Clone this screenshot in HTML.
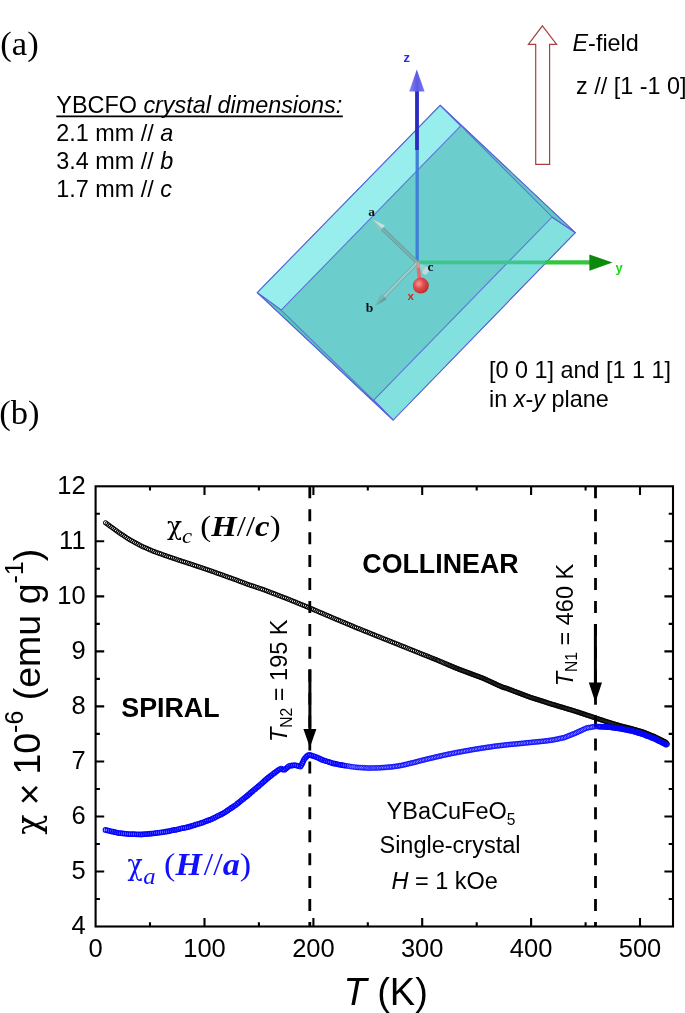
<!DOCTYPE html>
<html><head><meta charset="utf-8"><title>Figure</title>
<style>html,body{margin:0;padding:0;background:#fff}svg{display:block}</style></head>
<body><div style="will-change:transform;width:685px;height:1013px;overflow:hidden"><svg width="685" height="1013" viewBox="0 0 685 1013">
<rect width="685" height="1013" fill="#fff"/>
<defs>
<marker id="mk" markerWidth="8" markerHeight="8" refX="4" refY="4" markerUnits="userSpaceOnUse"><circle cx="4" cy="4" r="2.15" fill="none" stroke="#000" stroke-width="1.0"/></marker>
<marker id="mk2" markerWidth="8" markerHeight="8" refX="4" refY="4" markerUnits="userSpaceOnUse"><circle cx="4" cy="4" r="2.2" fill="none" stroke="#000" stroke-width="0.8"/></marker>
<marker id="mb" markerWidth="8" markerHeight="8" refX="4" refY="4" markerUnits="userSpaceOnUse"><circle cx="4" cy="4" r="2.3" fill="none" stroke="#0505ff" stroke-width="1.15"/></marker>
<marker id="mb3" markerWidth="8" markerHeight="8" refX="4" refY="4" markerUnits="userSpaceOnUse"><circle cx="4" cy="4" r="2.15" fill="none" stroke="#0505ff" stroke-width="1.5"/></marker>
<marker id="mb2" markerWidth="8" markerHeight="8" refX="4" refY="4" markerUnits="userSpaceOnUse"><circle cx="4" cy="4" r="2.4" fill="none" stroke="#0505ff" stroke-width="0.8"/></marker>
<filter id="soft" x="-5%" y="-5%" width="110%" height="110%"><feGaussianBlur stdDeviation="0.38"/></filter>
<linearGradient id="gz" x1="0" x2="1" y1="0" y2="0"><stop offset="0" stop-color="#8a8af2"/><stop offset="0.5" stop-color="#5a5ae6"/><stop offset="1" stop-color="#7a7aee"/></linearGradient>
<radialGradient id="gs" cx="0.38" cy="0.38" r="0.7"><stop offset="0" stop-color="#f49a9a"/><stop offset="0.45" stop-color="#e04a4a"/><stop offset="1" stop-color="#b82828"/></radialGradient>
</defs>
<g filter="url(#soft)">
<g stroke="#5a62d8" stroke-width="1.05" stroke-linejoin="round">
<polygon points="257.3,292.6 440.2,105.4 575.2,232.6 393.2,420.0" fill="#6fcfce"/>
<polygon points="257.3,292.6 440.2,105.4 460.9,125.8 281.3,310.2" fill="#97eeec"/>
<polygon points="373.6,400.2 552.0,217.0 575.2,232.6 393.2,420.0" fill="#82e0de"/>
<polygon points="257.3,292.6 281.3,310.2 373.6,400.2 393.2,420.0" fill="#55c8b8"/>
<polygon points="440.2,105.4 575.2,232.6 552.0,217.0 460.9,125.8" fill="#62c8c4"/>
<polygon points="281.3,310.2 460.9,125.8 552.0,217.0 373.6,400.2" fill="#6ccdcd" stroke-opacity="0.55"/>
</g>
<line x1="417.2" y1="262.4" x2="417.2" y2="150" stroke="#3f7fd6" stroke-width="3.3"/>
<line x1="417.0" y1="150" x2="417.0" y2="90" stroke="#2a2ac0" stroke-width="3.8"/>
<polygon points="416.8,69.5 409.2,91.6 424.6,91.6" fill="url(#gz)"/>
<line x1="417.2" y1="262.4" x2="545" y2="262.4" stroke="#3ec88a" stroke-width="3.6"/>
<line x1="545" y1="262.4" x2="590" y2="262.4" stroke="#33c63c" stroke-width="4.2"/>
<polygon points="612.5,262.6 589.4,254.6 589.4,270.8" fill="#0a8a0a"/>
<g stroke-linecap="butt">
<line x1="417.2" y1="262.4" x2="382.1" y2="228.6" stroke="#5e999b" stroke-width="3.6"/>
<line x1="417.2" y1="262.4" x2="382.1" y2="228.6" stroke="#7db1b2" stroke-width="2.2"/>
<polygon points="372.3,219.3 385.0,225.6 382.1,228.6" fill="#bde6e4"/><polygon points="372.3,219.3 382.1,228.6 379.2,231.6" fill="#8fc4c3"/>
<line x1="417.2" y1="262.4" x2="384" y2="296.7" stroke="#6da7a9" stroke-width="3.6"/>
<line x1="417.2" y1="262.4" x2="384" y2="296.7" stroke="#9dcdcc" stroke-width="2.2"/>
<polygon points="374.9,306 387.0,299.6 384,296.7" fill="#62a3a4"/><polygon points="374.9,306 384,296.7 380.9,293.8" fill="#79b6b6"/>
</g>
<polygon points="417.2,262.4 428.5,267.5 423.5,274" fill="#9fcfd0"/>
<ellipse cx="426" cy="270.8" rx="4.2" ry="2.6" transform="rotate(-52 426 270.8)" fill="#b9dedf"/>
<line x1="417.5" y1="262.4" x2="419.6" y2="279" stroke="#e86a6a" stroke-width="3.4"/>
<line x1="417.4" y1="261.9" x2="418.2" y2="268" stroke="#b9a3a3" stroke-width="3.4"/>
<circle cx="420.8" cy="285.6" r="8" fill="url(#gs)"/>
<g font-family="Liberation Serif, serif" font-weight="bold" font-size="13.5px" fill="#111">
<text x="368.3" y="215.6">a</text><text x="365.8" y="312.2">b</text><text x="427.4" y="270.8">c</text></g>
<text x="407.6" y="299.8" font-family="Liberation Sans, sans-serif" font-weight="bold" font-size="11.5px" fill="#e02020">x</text>
<text x="403.6" y="61.6" font-family="Liberation Sans, sans-serif" font-weight="bold" font-size="13px" fill="#2a2ae8">z</text>
<text x="615.6" y="271.6" font-family="Liberation Sans, sans-serif" font-weight="bold" font-size="13px" fill="#10e010">y</text>
</g>
<polygon points="542.4,25.8 556.6,44.4 549.6,44.4 549.6,164.3 535.7,164.3 535.7,44.4 528.4,44.4" fill="#fff" stroke="#a84040" stroke-width="1.2" stroke-linejoin="miter"/>
<g font-family="Liberation Serif, serif" font-size="34.6px" fill="#000"><text x="0.3" y="54.6">(a)</text><text x="-0.7" y="424.2">(b)</text></g>
<g font-family="Liberation Sans, sans-serif" font-size="23.4px" fill="#000">
<text x="56.3" y="113">YBCFO <tspan font-style="italic">crystal dimensions:</tspan></text>
<line x1="56.3" y1="116.4" x2="342.8" y2="116.4" stroke="#000" stroke-width="1.6"/>
<text x="56.3" y="140.8">2.1 mm // <tspan font-style="italic">a</tspan></text>
<text x="56.3" y="168.9">3.4 mm // <tspan font-style="italic">b</tspan></text>
<text x="56.3" y="196.7">1.7 mm // <tspan font-style="italic">c</tspan></text>
<text x="572.5" y="51.1"><tspan font-style="italic">E</tspan>-field</text>
<text x="576" y="94">z // [1 -1 0]</text>
<text x="489" y="377.7">[0 0 1] and [1 1 1]</text>
<text x="489" y="406.5">in <tspan font-style="italic">x</tspan>-<tspan font-style="italic">y</tspan> plane</text>
</g>
<line x1="309.8" y1="486.3" x2="309.8" y2="926.5" stroke="#000" stroke-width="2.8" stroke-dasharray="12 10.93"/>
<line x1="595.5" y1="486.3" x2="595.5" y2="926.5" stroke="#000" stroke-width="2.8" stroke-dasharray="12 10.93"/>
<polyline points="105.5,522.8 107.1,523.9 108.7,525.1 110.2,526.2 111.8,527.4 113.4,528.5 115.0,529.7 116.5,530.8 118.1,532.0 119.7,533.1 121.3,534.2 123.0,535.2 124.6,536.3 126.2,537.4 127.8,538.5 129.5,539.5 131.2,540.5 132.9,541.4 134.6,542.4 136.3,543.3 138.0,544.2 139.7,545.1 141.5,546.1 143.2,546.9 145.0,547.6 146.8,548.4 148.6,549.2 150.4,550.0 152.2,550.8 154.0,551.5 155.8,552.2 157.6,552.8 159.5,553.5 161.3,554.1 163.2,554.8 165.0,555.5 166.8,556.1 168.7,556.7 170.5,557.4 172.4,558.0 174.2,558.6 176.1,559.2 177.9,559.9 179.8,560.5 181.6,561.1 183.5,561.7 185.3,562.3 187.2,562.9 189.0,563.5 190.9,564.1 192.7,564.7 194.6,565.4 196.4,566.0 198.3,566.6 200.1,567.2 202.0,567.8 203.8,568.5 205.7,569.1 207.5,569.7 209.4,570.4 211.2,571.0 213.0,571.6 214.9,572.3 216.7,573.0 218.5,573.6 220.4,574.3 222.2,574.9 224.0,575.6 225.9,576.3 227.7,576.9 229.6,577.6 231.4,578.2 233.2,578.9 235.1,579.5 236.9,580.2 238.7,580.9 240.5,581.6 242.4,582.3 244.2,583.0 246.0,583.7 247.8,584.4 249.7,585.0 251.5,585.6 253.4,586.2 255.2,586.8 257.1,587.5 258.9,588.1 260.8,588.7 262.6,589.3 264.5,590.0 266.3,590.7 268.1,591.4 269.9,592.1 271.7,592.8 273.6,593.5 275.4,594.2 277.2,594.9 279.0,595.6 280.8,596.3 282.7,597.0 284.5,597.7 286.3,598.4 288.1,599.1 289.9,599.8 291.7,600.6 293.5,601.3 295.3,602.0 297.1,602.8 298.9,603.5 300.7,604.3 302.6,605.0 304.4,605.7 306.2,606.5 308.0,607.2 309.8,608.0 311.6,608.7 313.4,609.5 315.1,610.3 316.9,611.0 318.7,611.8 320.5,612.6 322.3,613.3 324.1,614.1 325.9,614.9 327.7,615.6 329.5,616.4 331.3,617.2 333.1,618.0 334.9,618.7 336.7,619.5 338.5,620.2 340.3,621.0 342.1,621.7 343.9,622.5 345.7,623.2 347.5,624.0 349.3,624.7 351.1,625.5 352.8,626.2 354.6,627.0 356.4,627.8 358.3,628.5 360.1,629.2 361.9,629.9 363.7,630.7 365.5,631.4 367.3,632.1 369.1,632.8 370.9,633.6 372.7,634.3 374.5,635.0 376.3,635.8 378.2,636.5 380.0,637.2 381.8,637.9 383.6,638.7 385.4,639.4 387.2,640.1 389.0,640.8 390.8,641.5 392.6,642.3 394.5,643.0 396.3,643.7 398.1,644.4 399.9,645.2 401.7,645.9 403.5,646.6 405.3,647.3 407.1,648.1 408.9,648.8 410.7,649.5 412.6,650.3 414.4,651.0 416.2,651.7 418.0,652.4 419.8,653.2 421.6,653.9 423.4,654.6 425.1,655.3 426.8,655.9 428.4,656.6 430.0,657.2 431.6,657.9 433.1,658.5 434.6,659.1 436.0,659.6 437.4,660.2 438.8,660.8" fill="none" stroke="none" marker-start="url(#mk)" marker-mid="url(#mk)" marker-end="url(#mk)"/>
<polyline points="440.1,661.4 441.4,661.9 442.7,662.4 443.9,663.0 445.1,663.5 446.3,664.0 447.4,664.5 448.5,664.9 449.6,665.4 450.6,665.8 451.7,666.3 452.7,666.7 453.7,667.1 454.6,667.5 455.6,667.9 456.5,668.3 457.4,668.6 458.3,669.0 459.3,669.4 460.2,669.7 461.1,670.1 462.1,670.4 463.0,670.8 463.9,671.1 464.9,671.5 465.8,671.8 466.8,672.2 467.7,672.5 468.6,672.9 469.6,673.2 470.5,673.6 471.4,673.9 472.4,674.3 473.3,674.6 474.2,675.0 475.2,675.3 476.1,675.7 477.1,676.0 478.0,676.4 478.9,676.7 479.9,677.1 480.8,677.4 481.7,677.8 482.7,678.1 483.6,678.5 484.5,678.9 485.4,679.3 486.3,679.7 487.2,680.2 488.2,680.6 489.1,681.0 490.0,681.4 490.9,681.8 491.8,682.3 492.7,682.7 493.6,683.1 494.5,683.5 495.4,683.9 496.3,684.3 497.2,684.8 498.1,685.2 499.1,685.6 500.0,686.0 500.9,686.4 501.8,686.9 502.7,687.2 503.7,687.5 504.6,687.8 505.6,688.0 506.6,688.3 507.5,688.7 508.4,689.0 509.4,689.4 510.3,689.7 511.2,690.1 512.2,690.4 513.1,690.8 514.0,691.2 515.0,691.5 515.9,691.9 516.8,692.2 517.8,692.6 518.7,692.9 519.6,693.3 520.6,693.6 521.5,694.0 522.4,694.4 523.4,694.7 524.3,695.1 525.3,695.4 526.2,695.8 527.1,696.1 528.1,696.5 529.0,696.8 529.9,697.2 530.9,697.5 531.8,697.8 532.8,698.1 533.7,698.4 534.7,698.7 535.6,699.0 536.6,699.3 537.5,699.6 538.5,699.9 539.5,700.2 540.4,700.5 541.4,700.8 542.3,701.1 543.3,701.4 544.2,701.7 545.2,702.0 546.1,702.3 547.1,702.7 548.0,703.0 549.0,703.3 549.9,703.6 550.9,703.9 551.8,704.2 552.8,704.5 553.8,704.7 554.7,705.0 555.7,705.3 556.6,705.6 557.6,705.9 558.5,706.2 559.5,706.5 560.5,706.8 561.4,707.0 562.4,707.3 563.3,707.6 564.3,707.9 565.3,708.2 566.2,708.5 567.2,708.8 568.1,709.1 569.1,709.3 570.0,709.6 571.0,709.9 572.0,710.2 572.9,710.5 573.9,710.8 574.8,711.1 575.8,711.4 576.7,711.7 577.7,712.0 578.6,712.3 579.6,712.6 580.5,713.0 581.5,713.3 582.4,713.6 583.4,713.9 584.3,714.2 585.3,714.5 586.2,714.9 587.2,715.2 588.1,715.5 589.1,715.8 590.0,716.1 591.0,716.4 591.9,716.8 592.9,717.1 593.8,717.4 594.8,717.7 595.7,718.0 596.6,718.3 597.6,718.7 598.5,719.0 599.5,719.3 600.4,719.6 601.4,719.9 602.3,720.2 603.3,720.5 604.2,720.9 605.2,721.2 606.1,721.5 607.1,721.8 608.0,722.1 609.0,722.4 609.9,722.7 610.9,723.0 611.9,723.3 612.8,723.6 613.8,723.9 614.7,724.2 615.7,724.5 616.6,724.7 617.6,725.0 618.6,725.3 619.5,725.6 620.5,725.9 621.4,726.1 622.4,726.4 623.4,726.6 624.4,726.9 625.3,727.1 626.3,727.3 627.3,727.6 628.2,727.8 629.2,728.1 630.2,728.3 631.2,728.5 632.1,728.8 633.1,729.1 634.0,729.4 635.0,729.6 636.0,729.9 636.9,730.2 637.9,730.5 638.8,730.8 639.8,731.0 640.8,731.3 641.7,731.6 642.7,731.9 643.6,732.2 644.6,732.6 645.5,733.0 646.4,733.3 647.3,733.7 648.3,734.1 649.2,734.5 650.1,734.8 651.0,735.2 652.0,735.6 652.9,736.0 653.8,736.3 654.7,736.7 655.6,737.2 656.5,737.6 657.4,738.1 658.3,738.5 659.2,738.9 660.1,739.4 661.0,739.8 661.9,740.3 662.8,740.7 663.7,741.2 664.6,741.6 665.5,742.0 666.2,742.7 666.8,743.5 667.4,744.3" fill="none" stroke="none" marker-start="url(#mk2)" marker-mid="url(#mk2)" marker-end="url(#mk2)"/>
<polyline points="105.5,829.9 107.4,830.4 109.3,830.8 111.2,831.3 113.1,831.7 115.0,832.2 116.9,832.6 118.8,833.0 120.7,833.2 122.7,833.4 124.6,833.6 126.5,833.8 128.5,834.0 130.4,834.1 132.4,834.2 134.3,834.2 136.3,834.3 138.2,834.3 140.2,834.4 142.1,834.4 144.1,834.2 146.0,834.0 148.0,833.9 149.9,833.7 151.8,833.5 153.8,833.3 155.7,833.1 157.6,832.8 159.6,832.6 161.5,832.3 163.4,832.0 165.4,831.7 167.3,831.4 169.2,831.0 171.1,830.6 173.0,830.2 174.9,829.9 176.9,829.5 178.8,829.1 180.7,828.6 182.6,828.2 184.5,827.8 186.4,827.4 188.3,826.9 190.1,826.4 192.0,825.8 193.9,825.3 195.7,824.7 197.6,824.1 199.5,823.6 201.3,822.9 203.1,822.3 205.0,821.6 206.8,820.9 208.6,820.2 210.4,819.5 212.2,818.8 214.0,817.9 215.7,817.0 217.5,816.1 219.2,815.3 221.0,814.4 222.7,813.5 224.4,812.5 226.0,811.5 227.6,810.4 229.3,809.3 230.9,808.2 232.5,807.2 234.1,806.1 235.7,805.0 237.3,803.7 238.8,802.5 240.3,801.3 241.8,800.1 243.3,798.9 244.9,797.6 246.4,796.4 247.9,795.2 249.4,793.9 250.8,792.6 252.3,791.4 253.8,790.1 255.3,788.9 256.8,787.6 258.3,786.4 259.8,785.1 261.3,783.8 262.7,782.5 264.2,781.2 265.6,779.9 267.1,778.7 268.6,777.4 270.2,776.2 271.7,775.0 273.2,773.8 274.8,772.7 276.3,771.5 277.9,770.3 279.6,769.3 281.2,768.5 282.9,769.6 284.5,769.7 286.0,768.5 287.5,767.3 289.0,766.0 290.9,765.7 292.8,765.4 294.8,765.1 296.7,765.6 298.5,766.1 300.4,766.5 301.4,764.9 302.4,763.2 303.2,761.4 304.0,759.6 305.1,758.0 306.4,756.7 307.8,755.3 309.5,754.9 311.3,755.4 313.2,756.0 315.0,756.6 316.9,757.3 318.7,758.0 320.4,758.9 322.1,759.8 324.0,760.4 325.8,761.0 327.7,761.6 329.6,762.2 331.4,762.8 333.3,763.4 335.1,763.7 337.0,764.1 338.9,764.5 340.8,764.8 342.6,765.2 344.4,765.6" fill="none" stroke="none" marker-start="url(#mb)" marker-mid="url(#mb)" marker-end="url(#mb)"/>
<polyline points="346.3,765.9 348.1,766.1 349.9,766.4 351.7,766.7 353.5,766.9 355.3,767.2 357.1,767.4 358.8,767.5 360.6,767.6 362.3,767.7 364.1,767.8 365.8,767.9 367.5,768.0 369.2,768.1 370.9,768.0 372.6,768.0 374.3,768.0 376.0,767.9 377.6,767.9 379.3,767.8 380.9,767.7 382.5,767.6 384.1,767.5 385.7,767.4 387.3,767.2 388.9,767.1 390.4,767.0 392.0,766.9 393.5,766.6 395.1,766.4 396.6,766.2 398.1,766.0 399.6,765.7 401.1,765.5 402.6,765.2 404.1,764.8 405.6,764.5 407.1,764.1 408.6,763.7 410.1,763.4 411.6,763.0 413.1,762.7 414.6,762.3 416.1,761.9 417.6,761.5 419.1,761.1 420.6,760.7 422.1,760.3 423.6,760.0 425.1,759.6 426.6,759.2 428.1,758.8 429.6,758.5 431.2,758.1 432.7,757.8 434.2,757.4 435.7,757.0 437.2,756.7 438.7,756.4 440.2,756.0 441.7,755.7 443.2,755.3 444.8,755.0 446.3,754.7 447.8,754.3 449.3,754.0 450.8,753.7 452.3,753.4 453.9,753.1 455.4,752.8 456.9,752.5 458.4,752.2 459.9,751.9 461.5,751.7 463.0,751.4 464.5,751.1 466.0,750.8 467.6,750.6 469.1,750.3 470.6,750.0 472.1,749.7 473.7,749.5 475.2,749.2 476.7,749.0 478.3,748.7 479.8,748.5 481.3,748.2 482.9,748.0 484.4,747.8 485.9,747.5 487.5,747.3 489.0,747.1 490.5,746.9 492.1,746.6 493.6,746.4 495.1,746.2 496.7,746.0 498.2,745.8 499.7,745.6 501.3,745.5 502.8,745.3 504.4,745.1 505.9,744.9 507.4,744.7 509.0,744.6 510.5,744.4 512.1,744.3 513.6,744.2 515.2,744.0 516.7,743.9 518.2,743.7 519.8,743.6 521.3,743.4 522.9,743.3 524.4,743.1 526.0,742.9 527.5,742.8 529.0,742.6 530.6,742.5 532.1,742.3 533.7,742.2 535.2,742.0 536.8,741.9 538.3,741.7 539.8,741.6 541.4,741.4 542.9,741.3 544.5,741.1 546.0,740.9 547.5,740.7 549.1,740.5 550.6,740.3 552.1,740.1 553.7,739.8 555.2,739.5 556.7,739.2 558.2,738.9 559.7,738.5 561.3,738.2 562.8,737.9 564.3,737.6 565.7,737.0 567.2,736.4 568.6,735.8 570.0,735.3 571.5,734.7 572.9,734.1 574.4,733.6 575.8,733.0 577.2,732.3 578.6,731.7 580.0,731.0 581.4,730.4 582.8,729.7 584.2,729.1 585.7,728.4 587.1,727.9 588.6,727.6 590.2,727.4 591.7,727.1 593.2,726.8 594.7,726.6 596.3,726.4 597.8,726.5" fill="none" stroke="none" marker-start="url(#mb2)" marker-mid="url(#mb2)" marker-end="url(#mb2)"/>
<polyline points="599.4,726.6 600.9,726.7 602.5,726.8 604.0,726.8 605.6,726.9 607.1,727.0 608.7,727.1 610.2,727.2 611.7,727.5 613.3,727.7 614.8,727.9 616.3,728.1 617.9,728.3 619.4,728.5 620.9,728.8 622.5,729.1 624.0,729.4 625.5,729.7 627.0,730.0 628.5,730.3 630.1,730.6 631.6,730.9 633.1,731.3 634.6,731.7 636.0,732.2 637.5,732.6 639.0,733.1 640.5,733.5 642.0,734.0 643.5,734.4 644.9,735.0 646.3,735.6 647.8,736.1 649.2,736.7 650.7,737.3 652.1,737.9 653.5,738.4 655.0,739.0 656.4,739.7 657.7,740.4 659.1,741.1 660.5,741.8 661.9,742.5 663.3,743.2 664.7,743.9 666.1,744.6" fill="none" stroke="none" marker-start="url(#mb3)" marker-mid="url(#mb3)" marker-end="url(#mb3)"/>
<line x1="309.9" y1="669.2" x2="309.9" y2="731" stroke="#000" stroke-width="3"/>
<polygon points="309.9,747.5 303.4,728.9 316.4,728.9" fill="#000"/>
<line x1="595.4" y1="624" x2="595.4" y2="685" stroke="#000" stroke-width="3"/>
<polygon points="595.4,702.5 588.8,682.6 602,682.6" fill="#000"/>
<rect x="95.6" y="486.3" width="577.4" height="440.2" fill="none" stroke="#000" stroke-width="2.1"/>
<path d="M150.0,926.5v-4.3M150.0,486.3v4.3M204.5,926.5v-8.6M204.5,486.3v8.6M258.9,926.5v-4.3M258.9,486.3v4.3M313.4,926.5v-8.6M313.4,486.3v8.6M367.8,926.5v-4.3M367.8,486.3v4.3M422.2,926.5v-8.6M422.2,486.3v8.6M476.7,926.5v-4.3M476.7,486.3v4.3M531.1,926.5v-8.6M531.1,486.3v8.6M585.6,926.5v-4.3M585.6,486.3v4.3M640.0,926.5v-8.6M640.0,486.3v8.6M95.6,899.0h4.3M673.0,899.0h-4.3M95.6,871.5h8.6M673.0,871.5h-8.6M95.6,844.0h4.3M673.0,844.0h-4.3M95.6,816.5h8.6M673.0,816.5h-8.6M95.6,789.0h4.3M673.0,789.0h-4.3M95.6,761.5h8.6M673.0,761.5h-8.6M95.6,733.9h4.3M673.0,733.9h-4.3M95.6,706.4h8.6M673.0,706.4h-8.6M95.6,678.9h4.3M673.0,678.9h-4.3M95.6,651.4h8.6M673.0,651.4h-8.6M95.6,623.9h4.3M673.0,623.9h-4.3M95.6,596.4h8.6M673.0,596.4h-8.6M95.6,568.8h4.3M673.0,568.8h-4.3M95.6,541.3h8.6M673.0,541.3h-8.6M95.6,513.8h4.3M673.0,513.8h-4.3" stroke="#000" stroke-width="2.1" fill="none"/>
<g font-family="Liberation Sans, sans-serif" font-size="25.5px" fill="#000">
<g text-anchor="end">
<text x="85.6" y="934.1">4</text>
<text x="85.6" y="879.1">5</text>
<text x="85.6" y="824.1">6</text>
<text x="85.6" y="769.1">7</text>
<text x="85.6" y="714.0">8</text>
<text x="85.6" y="659.0">9</text>
<text x="85.6" y="604.0">10</text>
<text x="85.6" y="548.9">11</text>
<text x="85.6" y="493.9">12</text>
</g><g text-anchor="middle">
<text x="95.6" y="957.2">0</text>
<text x="204.5" y="957.2">100</text>
<text x="313.4" y="957.2">200</text>
<text x="422.2" y="957.2">300</text>
<text x="531.1" y="957.2">400</text>
<text x="640.0" y="957.2">500</text>
</g></g>
<text x="343.4" y="1004.5" font-family="Liberation Sans, sans-serif" font-size="38px"><tspan font-style="italic">T</tspan> (K)</text>
<text transform="translate(39.5,834.8) rotate(-90)" font-family="DejaVu Serif, serif" font-size="33.5px">χ</text>
<text transform="translate(41.9,805.2) rotate(-90)" font-family="Liberation Sans, sans-serif" font-size="37.5px">×</text>
<text transform="translate(39.5,774.6) rotate(-90)" font-family="Liberation Sans, sans-serif" font-size="37.5px">10<tspan font-size="25px" dy="-16.5">-6</tspan><tspan dy="16.5"> (emu g</tspan><tspan font-size="25px" dy="-16.5">-1</tspan><tspan dy="16.5">)</tspan></text>
<g font-family="Liberation Sans, sans-serif" font-weight="bold" font-size="26.8px"><text x="121.3" y="717">SPIRAL</text><text x="362.3" y="572.6">COLLINEAR</text></g>
<g font-family="Liberation Sans, sans-serif" font-size="23.5px" text-anchor="middle">
<text x="451" y="818.5">YBaCuFeO<tspan font-size="15.6px" dy="6">5</tspan></text>
<text x="450" y="852.6">Single-crystal</text>
<text x="444.7" y="889.3"><tspan font-style="italic">H</tspan> = 1 kOe</text></g>
<g font-family="Liberation Sans, sans-serif" font-size="23.5px">
<text transform="translate(287.3,742) rotate(-90)"><tspan font-style="italic">T</tspan><tspan font-size="15.6px" dy="4.2">N2</tspan><tspan dy="-4.2"> = 195 K</tspan></text>
<text transform="translate(572.9,686.3) rotate(-90)"><tspan font-style="italic">T</tspan><tspan font-size="15.6px" dy="4.2">N1</tspan><tspan dy="-4.2"> = 460 K</tspan></text></g>
<g font-family="Liberation Serif, serif">
<text transform="translate(167,535) scale(0.93,1)" font-family="DejaVu Serif, serif" font-size="26.7px">χ</text>
<text transform="translate(182,535.5) scale(1.113,1)" font-size="29.5px"><tspan font-style="italic" font-size="20.5px" dy="7.3">c</tspan><tspan dy="-7.3"> (</tspan><tspan font-weight="bold" font-style="italic">H</tspan>//<tspan font-weight="bold" font-style="italic">c</tspan>)</text>
<g fill="#1010ff">
<text transform="translate(127.6,875.2) scale(0.84,1)" font-family="DejaVu Serif, serif" font-size="30px">χ</text>
<text transform="translate(143.2,875) scale(1.10,1)" font-size="31px"><tspan font-style="italic" font-size="22.5px" dy="8.6">a</tspan><tspan dy="-8.6"> (</tspan><tspan font-weight="bold" font-style="italic">H</tspan><tspan dx="1.6">//</tspan><tspan font-weight="bold" font-style="italic">a</tspan>)</text>
</g></g>
</svg></div></body></html>
